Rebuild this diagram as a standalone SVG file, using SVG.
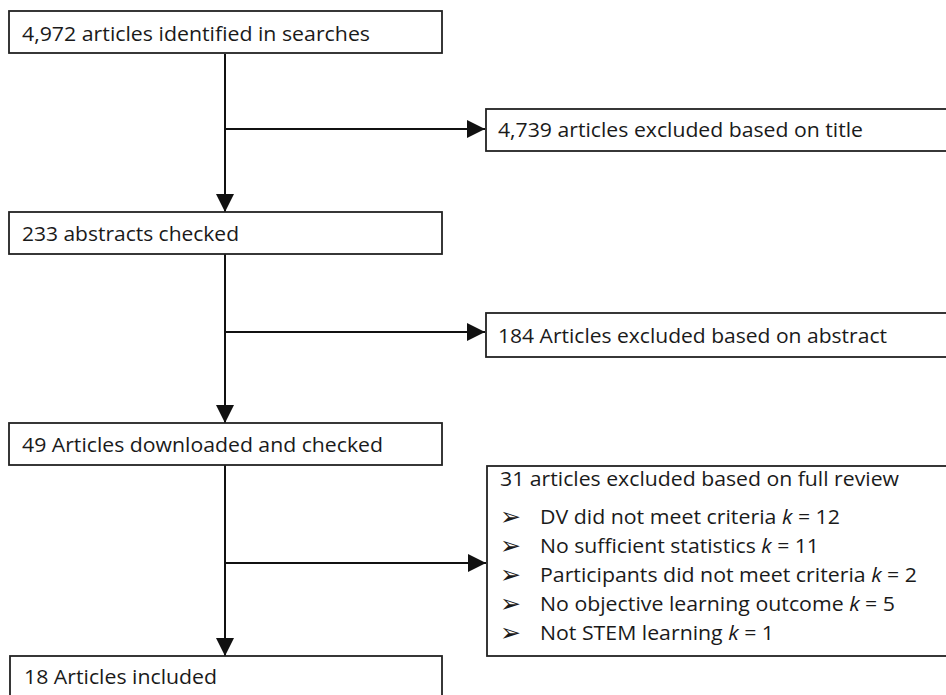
<svg xmlns="http://www.w3.org/2000/svg" width="946" height="695" viewBox="0 0 946 695">
<style>
.box{fill:#fff;stroke:#222;stroke-width:1.8}
.t{font-family:"Open Sans","Noto Sans",sans-serif;font-size:20.5px;fill:#1a1a1a}
.b{font-family:"DejaVu Sans",sans-serif;font-size:25px;fill:#1a1a1a}
.ln{stroke:#111;stroke-width:2;fill:none}
</style>
<defs>
<marker id="ah" viewBox="0 0 18 18" refX="18" refY="9" markerWidth="18" markerHeight="18" markerUnits="userSpaceOnUse" orient="auto">
<path d="M0,0 L18,9 L0,18 Z" fill="#111"/>
</marker>
</defs>
<rect width="946" height="695" fill="#fff"/>
<g id="connectors">
<line class="ln" x1="225" y1="54" x2="225" y2="212" marker-end="url(#ah)"/>
<line class="ln" x1="225" y1="129" x2="485" y2="129" marker-end="url(#ah)"/>
<line class="ln" x1="225" y1="254" x2="225" y2="423" marker-end="url(#ah)"/>
<line class="ln" x1="225" y1="332" x2="485" y2="332" marker-end="url(#ah)"/>
<line class="ln" x1="225" y1="465" x2="225" y2="656" marker-end="url(#ah)"/>
<line class="ln" x1="225" y1="563" x2="486" y2="563" marker-end="url(#ah)"/>
</g>
<g id="n1">
<rect class="box" x="9" y="11" width="433" height="42"/>
<text class="t" x="22" y="41" textLength="348" lengthAdjust="spacingAndGlyphs">4,972 articles identified in searches</text>
</g>
<g id="n2">
<rect class="box" x="486" y="109" width="470" height="42"/>
<text class="t" x="498" y="137" textLength="365" lengthAdjust="spacingAndGlyphs">4,739 articles excluded based on title</text>
</g>
<g id="n3">
<rect class="box" x="9" y="212" width="433" height="42"/>
<text class="t" x="22" y="241" textLength="217" lengthAdjust="spacingAndGlyphs">233 abstracts checked</text>
</g>
<g id="n4">
<rect class="box" x="486" y="313" width="470" height="44"/>
<text class="t" x="498" y="343" textLength="389" lengthAdjust="spacingAndGlyphs">184 Articles excluded based on abstract</text>
</g>
<g id="n5">
<rect class="box" x="9" y="423" width="433" height="42"/>
<text class="t" x="22" y="452" textLength="361" lengthAdjust="spacingAndGlyphs">49 Articles downloaded and checked</text>
</g>
<g id="n6">
<rect class="box" x="487" y="466" width="470" height="190"/>
<text class="t" x="500" y="486" textLength="399" lengthAdjust="spacingAndGlyphs">31 articles excluded based on full review</text>
<text class="b" x="500" y="525">➢</text>
<text class="t" x="540" y="524" textLength="300" lengthAdjust="spacingAndGlyphs">DV did not meet criteria <tspan font-style="italic">k</tspan> = 12</text>
<text class="b" x="500" y="554">➢</text>
<text class="t" x="540" y="553" textLength="279" lengthAdjust="spacingAndGlyphs">No sufficient statistics <tspan font-style="italic">k</tspan> = 11</text>
<text class="b" x="500" y="583">➢</text>
<text class="t" x="540" y="582" textLength="377" lengthAdjust="spacingAndGlyphs">Participants did not meet criteria <tspan font-style="italic">k</tspan> = 2</text>
<text class="b" x="500" y="612">➢</text>
<text class="t" x="540" y="611" textLength="355" lengthAdjust="spacingAndGlyphs">No objective learning outcome <tspan font-style="italic">k</tspan> = 5</text>
<text class="b" x="500" y="641">➢</text>
<text class="t" x="540" y="640" textLength="234" lengthAdjust="spacingAndGlyphs">Not STEM learning <tspan font-style="italic">k</tspan> = 1</text>
</g>
<g id="n7">
<rect class="box" x="10" y="656" width="432" height="60"/>
<text class="t" x="24" y="684" textLength="193" lengthAdjust="spacingAndGlyphs">18 Articles included</text>
</g>
</svg>
